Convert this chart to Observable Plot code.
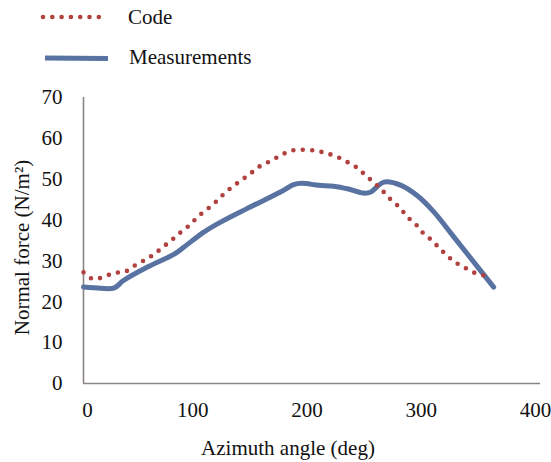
<!DOCTYPE html>
<html>
<head>
<meta charset="utf-8">
<script src="https://cdn.jsdelivr.net/npm/d3@7"></script>
<script src="https://cdn.jsdelivr.net/npm/@observablehq/plot@0.6"></script>
<style>
  html, body { margin: 0; padding: 0; background: #fff; }
  #wrap { width: 551px; height: 462px; position: relative; font-family: "Liberation Serif", "Times New Roman", serif; color: #111; overflow: hidden; }
  #legend { position: relative; width: 551px; height: 80px; }
  .lg-text { position: absolute; font-size: 21px; line-height: 24px; white-space: nowrap; }
  .lg-svg { position: absolute; }
  #chart svg { display: block; overflow: visible; }
</style>
</head>
<body>
<div id="wrap">
  <div id="legend">
    <svg class="lg-svg" style="left:38px; top:10px" width="76" height="14">
      <line x1="5" y1="7" x2="70" y2="7" stroke="#b0413e" stroke-width="4.6" stroke-linecap="round" stroke-dasharray="0 9.3"></line>
    </svg>
    <div class="lg-text" style="left:128px; top:5px">Code</div>
    <svg class="lg-svg" style="left:40px; top:51px" width="74" height="14">
      <line x1="5" y1="7" x2="68" y2="7.6" stroke="#5872a2" stroke-width="5"></line>
    </svg>
    <div class="lg-text" style="left:129px; top:45px">Measurements</div>
  </div>
  <div id="chart"></div>
</div>
<script>
// Code (dotted) series
const codeAngle = [0, 8, 17, 27, 36, 45, 54, 62, 70, 78, 85, 93, 100, 108, 116, 123, 131, 139, 147, 155, 164, 173, 182, 192, 203, 212, 221, 231, 240, 247, 255, 262, 269, 277, 283, 291, 297, 305, 312, 319, 327, 336, 345, 355];
const codeForce = [27.2, 25.6, 26.0, 27.1, 27.3, 28.9, 30.3, 31.7, 33.5, 35.3, 37.0, 38.8, 40.8, 42.6, 44.5, 46.4, 48.3, 49.9, 51.6, 53.3, 54.5, 55.9, 57.0, 57.2, 57.0, 56.4, 55.6, 54.2, 52.7, 50.9, 49.0, 47.1, 45.0, 43.0, 40.9, 38.9, 36.9, 35.0, 33.0, 31.1, 29.4, 28.0, 26.8, 26.3];
// Measurements (solid) series
const measAngle = [0, 15, 27, 35, 56, 79, 88, 105, 120, 143, 172, 184, 191, 206, 219, 232, 245, 251, 263, 278, 292, 307, 321, 336, 359];
const measForce = [23.6, 23.3, 23.4, 25.2, 28.5, 31.6, 33.4, 37.0, 39.5, 42.8, 46.8, 48.7, 49.0, 48.5, 48.3, 47.6, 46.6, 46.8, 49.3, 48.5, 46.0, 41.9, 37.0, 31.7, 23.6];
// Axis ticks
const xTicksFirst = [0];
const xTicksRest = [100, 200, 300, 400];
const yTicks = [0, 10, 20, 30, 40, 50, 60, 70];
const xTitle = "Azimuth angle (deg)";
const yTitle = "Normal force (N/m²)";

const code = codeAngle.map((a, i) => ({angle: a, force: codeForce[i]}));
const meas = measAngle.map((a, i) => ({angle: a, force: measForce[i]}));

const chart = Plot.plot({
  width: 551,
  height: 382,
  marginTop: 17,
  marginBottom: 79,
  marginLeft: 83,
  marginRight: 11,
  style: {fontFamily: "'Liberation Serif', 'Times New Roman', serif", fontSize: "21px", color: "#111", background: "#fff", overflow: "visible"},
  x: {domain: [0, 400]},
  y: {domain: [0, 70]},
  marks: [
    Plot.axisX({ticks: xTicksFirst, tickSize: 0, tickPadding: 19, label: null, fontSize: 21, dx: 4}),
    Plot.axisX({ticks: xTicksRest, tickSize: 0, tickPadding: 19, label: null, fontSize: 21, dx: -5}),
    Plot.axisY({ticks: yTicks, tickSize: 0, tickPadding: 21, label: null, fontSize: 21}),
    Plot.ruleX([0], {stroke: "#8a8482", strokeWidth: 1.6}),
    Plot.ruleY([0], {stroke: "#8a8482", strokeWidth: 1.6}),
    Plot.line(meas, {x: "angle", y: "force", stroke: "#5872a2", strokeWidth: 5, curve: "catmull-rom", strokeLinecap: "round", strokeLinejoin: "round"}),
    Plot.line(code, {x: "angle", y: "force", stroke: "#b0413e", strokeWidth: 4.6, curve: "catmull-rom", strokeLinecap: "round", strokeDasharray: "0 9.4"}),
    Plot.text([xTitle], {frameAnchor: "bottom", textAnchor: "middle", lineAnchor: "middle", dx: -24, dy: 65, fontSize: 21, fill: "#111"}),
    Plot.text([yTitle], {frameAnchor: "left", textAnchor: "middle", lineAnchor: "middle", rotate: -90, dx: -61, dy: 7, fontSize: 21, fill: "#111"})
  ]
});
document.getElementById("chart").appendChild(chart);
</script>
</body>
</html>
